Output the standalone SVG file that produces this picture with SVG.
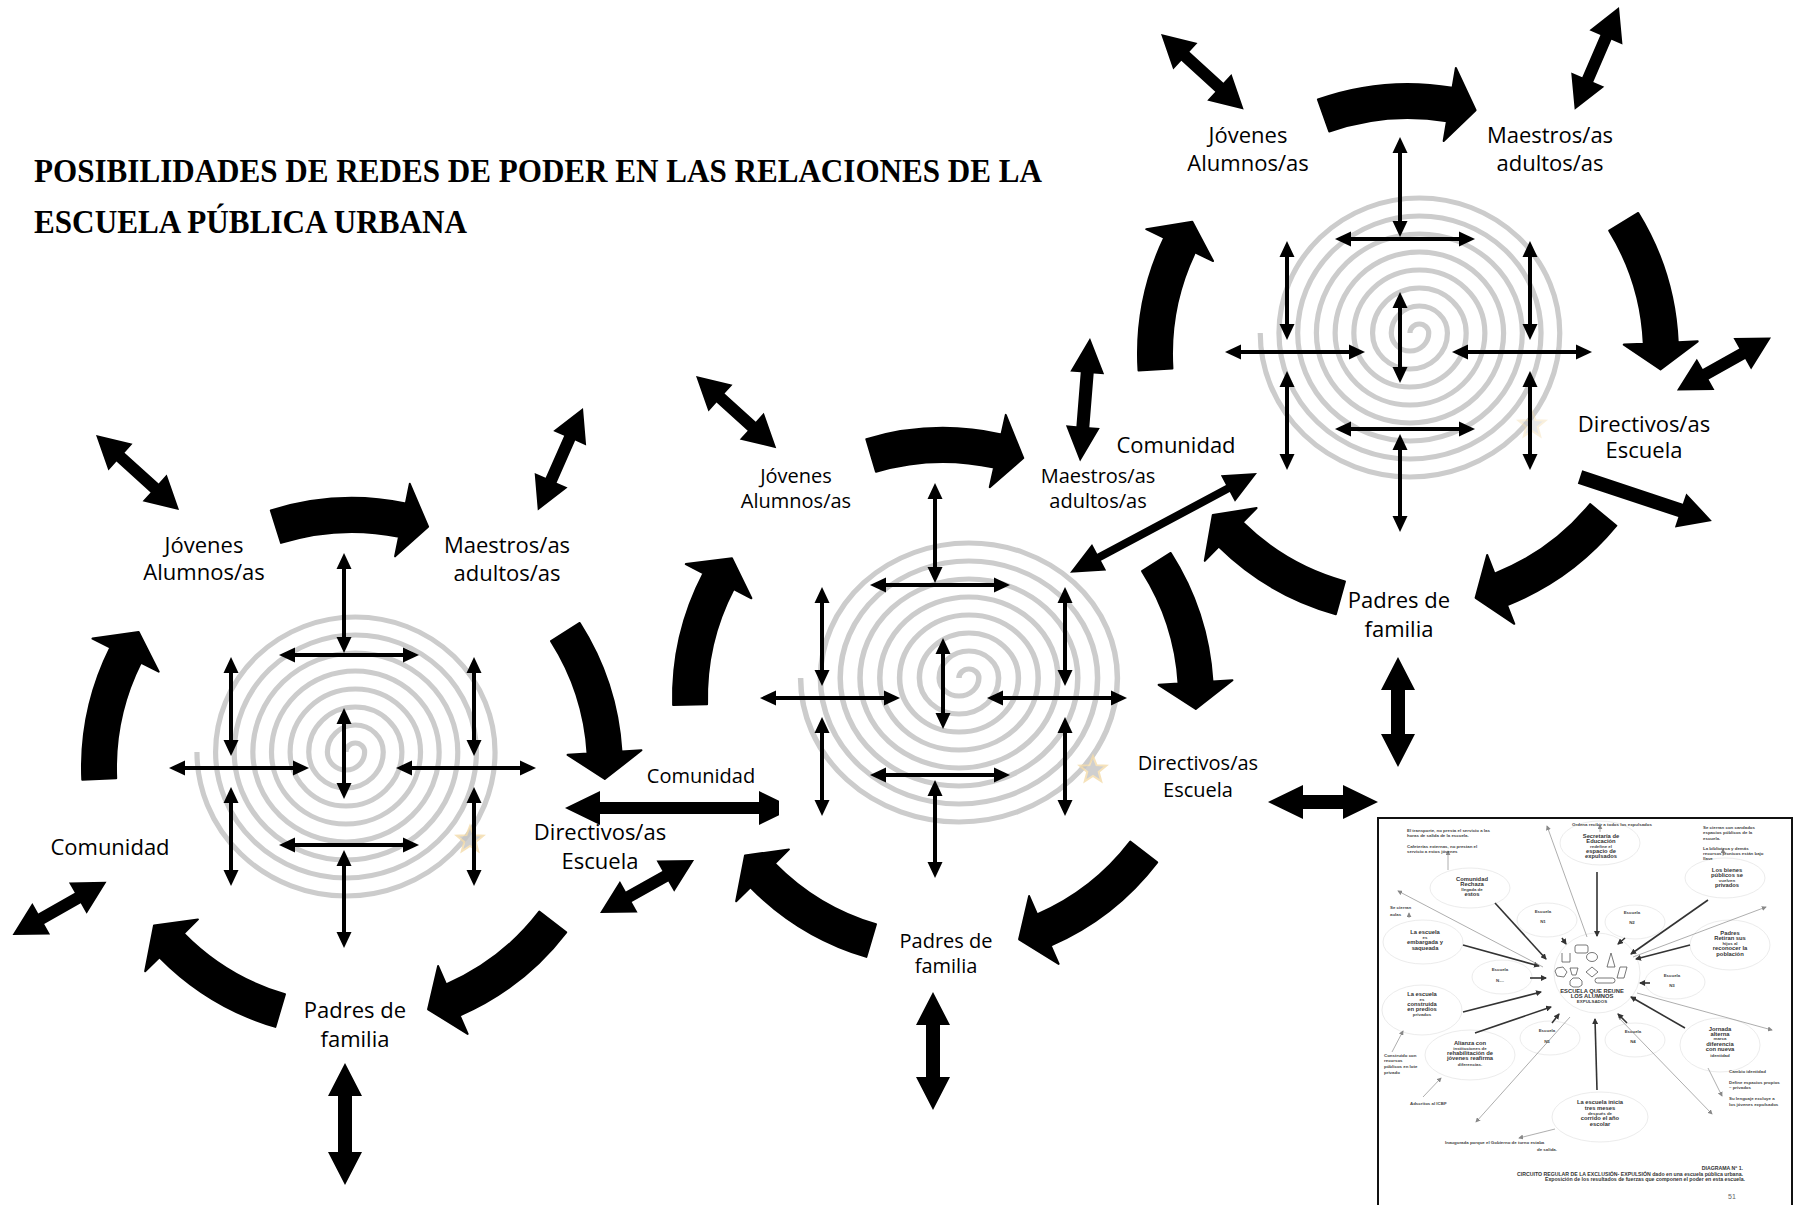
<svg xmlns="http://www.w3.org/2000/svg" xmlns:xlink="http://www.w3.org/1999/xlink" width="1802" height="1205" viewBox="0 0 1802 1205">
  <style>
    .title { font-family: "Liberation Serif", "Times New Roman", serif; font-weight: bold; font-size: 33px; fill: #000; }
    .lbl { font-family: "Open Sans", "Liberation Sans", sans-serif; font-size: 22px; fill: #000; text-anchor: middle; }
    .lbl.sm { font-size: 20px; }
    .spiral { fill: none; stroke: #cccccc; stroke-width: 5; }
    .thin { fill: none; stroke: #000; stroke-width: 4; marker-start: url(#sh); marker-end: url(#sh); }
    .block { fill: #000; stroke: #000; stroke-width: 2; stroke-linejoin: round; }
    .star { fill: #c4c4c4; stroke: #f4dcaa; stroke-width: 2; opacity: 0.8; }
    .ie { fill: none; stroke: #ececec; stroke-width: 1; }
    .ia { fill: none; stroke: #333; stroke-width: 1.6; marker-end: url(#ih); }
    .ib { fill: none; stroke: #999; stroke-width: 0.8; marker-end: url(#ih2); }
    .ishape { fill: none; stroke: #555; stroke-width: 0.8; }
    .t4 { font-family: "Liberation Sans", Arial, sans-serif; font-weight: bold; font-size: 4.4px; fill: #444; }
    .t6 { font-family: "Liberation Sans", Arial, sans-serif; font-weight: bold; font-size: 5.8px; fill: #333; text-anchor: middle; }
    .t5 { font-family: "Liberation Sans", Arial, sans-serif; font-weight: bold; font-size: 5.2px; fill: #333; text-anchor: end; }
    .mid { text-anchor: middle; }
  </style>
  <defs>
    <marker id="sh" viewBox="0 0 16 16" refX="8" refY="8" markerWidth="16" markerHeight="16" markerUnits="userSpaceOnUse" orient="auto-start-reverse">
      <path d="M0,0.5 L16,8 L0,15.5 z" fill="#000"/>
    </marker>
    <marker id="ih" viewBox="0 0 6 6" refX="5" refY="3" markerWidth="6" markerHeight="6" markerUnits="userSpaceOnUse" orient="auto">
      <path d="M0,0 L6,3 L0,6 z" fill="#333"/>
    </marker>
    <marker id="ih2" viewBox="0 0 6 6" refX="5" refY="3" markerWidth="5" markerHeight="5" markerUnits="userSpaceOnUse" orient="auto">
      <path d="M0,0 L6,3 L0,6 z" fill="#888"/>
    </marker>
    <!-- grey spiral built from alternating half circles -->
    <path id="spiralPath" class="spiral" d="M0,0 A9,9 0 0 1 18,0 A18,18 0 0 1 -18,0 A27,27 0 0 1 36,0 A36,36 0 0 1 -36,0 A45,45 0 0 1 54,0 A54,54 0 0 1 -54,0 A63,63 0 0 1 72,0 A72,72 0 0 1 -72,0 A81,81 0 0 1 90,0 A90,90 0 0 1 -90,0 A99,99 0 0 1 108,0 A108,108 0 0 1 -108,0 A117,117 0 0 1 126,0 A126,126 0 0 1 -126,0 A135,135 0 0 1 144,0 A144,144 0 0 1 -144,0"/>
    <!-- thick curved arrow, centred on angle 0, running clockwise -->
    <path id="bigArc" class="block" d="M257.50,-81.19 A270,270 0 0 1 264.58,53.83 L284.18,57.82 L241.29,76.08 L211.66,43.06 L231.26,47.05 A236,236 0 0 0 225.08,-70.97 Z"/>
    <!-- outer ring of small double arrows over each spiral -->
    <g id="crossOuter">
      <path class="thin" d="M-8,-207 V-123"/>
      <path class="thin" d="M-65,-113 H59"/>
      <path class="thin" d="M-121,-103 V-20"/>
      <path class="thin" d="M122,-103 V-20"/>
      <path class="thin" d="M-175,0 H-51"/>
      <path class="thin" d="M52,0 H176"/>
      <path class="thin" d="M-121,27 V110"/>
      <path class="thin" d="M122,27 V110"/>
      <path class="thin" d="M-65,77 H59"/>
      <path class="thin" d="M-8,90 V172"/>
    </g>
    <path id="crossCentre" class="thin" d="M0,-52 V23"/>
    <polygon id="star" class="star" points="0,-14 3.53,-4.85 13.31,-4.33 5.71,1.85 8.23,11.33 0,6 -8.23,11.33 -5.71,1.85 -13.31,-4.33 -3.53,-4.85"/>
    <polygon id="dbl112" points="0,0 33,-18 33,-6 79,-6 79,-18 112,0 79,18 79,6 33,6 33,18"/>
    <polygon id="dbl108" points="0,0 33,-18 33,-6 75,-6 75,-18 108,0 75,18 75,6 33,6 33,18"/>
  </defs>

  <rect width="1802" height="1205" fill="#fff"/>

  <g id="title">
    <text class="title" x="34" y="182" textLength="1008" lengthAdjust="spacingAndGlyphs">POSIBILIDADES DE REDES DE PODER EN LAS RELACIONES DE LA</text>
    <text class="title" x="34" y="233" textLength="433" lengthAdjust="spacingAndGlyphs">ESCUELA PÚBLICA URBANA</text>
  </g>

  <g id="spirals">
    <use href="#spiralPath" transform="translate(346,752) scale(1.035,1)"/>
    <use href="#spiralPath" transform="translate(959,678) scale(1.1,1)"/>
    <use href="#spiralPath" transform="translate(1410,333) scale(1.04,1)"/>
    <use href="#star" transform="translate(470,840)"/>
    <use href="#star" transform="translate(1093,770)"/>
    <use href="#star" transform="translate(1532,425)" opacity="0.5"/>
  </g>

  <g id="connectors">
    <!-- small arrow crosses -->
    <use href="#crossOuter" transform="translate(352,768)"/>
    <use href="#crossCentre" transform="translate(344,768)"/>
    <use href="#crossOuter" transform="translate(943,698)"/>
    <use href="#crossCentre" transform="translate(943,698)"/>
    <use href="#crossOuter" transform="translate(1408,352)"/>
    <use href="#crossCentre" transform="translate(1400,352)"/>

    <!-- curved cycle arrows, cluster 1 -->
    <use href="#bigArc" transform="translate(352,768) rotate(195)"/>
    <use href="#bigArc" transform="translate(352,768) rotate(270)"/>
    <use href="#bigArc" transform="translate(352,768) rotate(345)"/>
    <use href="#bigArc" transform="translate(352,768) rotate(55)"/>
    <use href="#bigArc" transform="translate(352,768) rotate(124)"/>
    <!-- cluster 2 -->
    <use href="#bigArc" transform="translate(943,698) rotate(196)"/>
    <use href="#bigArc" transform="translate(943,698) rotate(271)"/>
    <use href="#bigArc" transform="translate(943,698) rotate(345)"/>
    <use href="#bigArc" transform="translate(943,698) rotate(55)"/>
    <use href="#bigArc" transform="translate(943,698) rotate(124)"/>
    <!-- cluster 3 -->
    <use href="#bigArc" transform="translate(1408,354) rotate(194)"/>
    <use href="#bigArc" transform="translate(1408,354) rotate(268)"/>
    <use href="#bigArc" transform="translate(1408,354) rotate(346)"/>
    <use href="#bigArc" transform="translate(1408,354) rotate(57)"/>
    <use href="#bigArc" transform="translate(1408,354) rotate(123)"/>

    <!-- straight thick double arrows -->
    <use href="#dbl112" transform="translate(96,435) rotate(42.1)"/>
    <use href="#dbl112" transform="translate(583,408) rotate(113.8)"/>
    <use href="#dbl108" transform="translate(12.5,935) rotate(-29.5)"/>
    <use href="#dbl108" transform="translate(600,913) rotate(-29.4)"/>
    <polygon transform="translate(345,1063) rotate(90)" points="0,0 33,-17 33,-7 89,-7 89,-17 122,0 89,17 89,7 33,7 33,17"/>
    <polygon points="565,808 600,791 600,802 759,802 759,791 779,800.7 779,815.3 759,825 759,814 600,814 600,825"/>
    <use href="#dbl108" transform="translate(696,376) rotate(42)"/>
    <polygon transform="translate(1090,338) rotate(94.6)" points="0,0 35,-17 35,-6.5 89,-6.5 89,-17 124,0 89,17 89,6.5 35,6.5 35,17"/>
    <polygon transform="translate(1257,473) rotate(151.9)" points="0,0 33,-15 33,-4 179,-4 179,-15 212,0 179,15 179,4 33,4 33,15"/>
    <polygon transform="translate(933,992) rotate(90)" points="0,0 33,-17 33,-7 85,-7 85,-17 118,0 85,17 85,7 33,7 33,17"/>
    <polygon transform="translate(1268,802)" points="0,0 35,-17 35,-7 75,-7 75,-17 110,0 75,17 75,7 35,7 35,17"/>
    <use href="#dbl112" transform="translate(1161,34) rotate(42.4)"/>
    <use href="#dbl112" transform="translate(1619,7) rotate(113.3)"/>
    <use href="#dbl108" transform="translate(1771,337.5) rotate(150.6)"/>
    <polygon transform="translate(1580,477) rotate(18.4)" points="0,-7 106,-7 106,-18 139,0 106,18 106,7 0,7"/>
    <polygon transform="translate(1398,657) rotate(90)" points="0,0 33,-17 33,-7 77,-7 77,-17 110,0 77,17 77,7 33,7 33,17"/>
  </g>

  <!-- cluster 1 actors -->
  <g id="node-jovenes-1"><text class="lbl" x="204" y="553">Jóvenes</text><text class="lbl" x="204" y="580">Alumnos/as</text></g>
  <g id="node-maestros-1"><text class="lbl" x="507" y="553">Maestros/as</text><text class="lbl" x="507" y="581">adultos/as</text></g>
  <g id="node-comunidad-1"><text class="lbl" x="110" y="855">Comunidad</text></g>
  <g id="node-directivos-1"><text class="lbl" x="600" y="840">Directivos/as</text><text class="lbl" x="600" y="869">Escuela</text></g>
  <g id="node-padres-1"><text class="lbl" x="355" y="1018">Padres de</text><text class="lbl" x="355" y="1047">familia</text></g>
  <!-- cluster 2 actors -->
  <g id="node-comunidad-2"><text class="lbl sm" x="701" y="783">Comunidad</text></g>
  <g id="node-jovenes-2"><text class="lbl sm" x="796" y="483">Jóvenes</text><text class="lbl sm" x="796" y="508">Alumnos/as</text></g>
  <g id="node-maestros-2"><text class="lbl sm" x="1098" y="483">Maestros/as</text><text class="lbl sm" x="1098" y="508">adultos/as</text></g>
  <g id="node-directivos-2"><text class="lbl sm" x="1198" y="770">Directivos/as</text><text class="lbl sm" x="1198" y="797">Escuela</text></g>
  <g id="node-padres-2"><text class="lbl sm" x="946" y="948">Padres de</text><text class="lbl sm" x="946" y="973">familia</text></g>
  <!-- cluster 3 actors -->
  <g id="node-comunidad-3"><text class="lbl" x="1176" y="453">Comunidad</text></g>
  <g id="node-jovenes-3"><text class="lbl" x="1248" y="143">Jóvenes</text><text class="lbl" x="1248" y="171">Alumnos/as</text></g>
  <g id="node-maestros-3"><text class="lbl" x="1550" y="143">Maestros/as</text><text class="lbl" x="1550" y="171">adultos/as</text></g>
  <g id="node-directivos-3"><text class="lbl" x="1644" y="432">Directivos/as</text><text class="lbl" x="1644" y="458">Escuela</text></g>
  <g id="node-padres-3"><text class="lbl" x="1399" y="608">Padres de</text><text class="lbl" x="1399" y="637">familia</text></g>

  <!-- scanned diagram of the exclusion circuit -->
  <g id="inset">
    <rect x="1378" y="818" width="414" height="400" fill="#fff" stroke="#111" stroke-width="2"/>
    <g>
      <ellipse class="ie" cx="1600" cy="843" rx="40" ry="22"/>
      <ellipse class="ie" cx="1470" cy="888" rx="40" ry="20"/>
      <ellipse class="ie" cx="1725" cy="878" rx="40" ry="20"/>
      <ellipse class="ie" cx="1547" cy="920" rx="30" ry="17"/>
      <ellipse class="ie" cx="1635" cy="922" rx="30" ry="17"/>
      <ellipse class="ie" cx="1423" cy="942" rx="40" ry="22"/>
      <ellipse class="ie" cx="1730" cy="945" rx="40" ry="25"/>
      <ellipse class="ie" cx="1502" cy="977" rx="30" ry="17"/>
      <ellipse class="ie" cx="1675" cy="982" rx="30" ry="17"/>
      <ellipse class="ie" cx="1597" cy="973" rx="43" ry="40"/>
      <ellipse class="ie" cx="1422" cy="1010" rx="40" ry="25"/>
      <ellipse class="ie" cx="1550" cy="1038" rx="30" ry="17"/>
      <ellipse class="ie" cx="1635" cy="1040" rx="30" ry="17"/>
      <ellipse class="ie" cx="1720" cy="1045" rx="40" ry="27"/>
      <ellipse class="ie" cx="1470" cy="1055" rx="45" ry="25"/>
      <ellipse class="ie" cx="1600" cy="1117" rx="48" ry="25"/>
    </g>
    <g>
      <path class="ia" d="M1597,872 V936"/>
      <path class="ia" d="M1495,903 L1546,959"/>
      <path class="ia" d="M1708,900 L1631,954"/>
      <path class="ia" d="M1463,945 L1539,966"/>
      <path class="ia" d="M1690,945 L1636,959"/>
      <path class="ia" d="M1530,978 H1546"/>
      <path class="ia" d="M1650,983 H1640"/>
      <path class="ia" d="M1463,1012 L1541,992"/>
      <path class="ia" d="M1475,1033 L1551,1007"/>
      <path class="ia" d="M1597,1090 L1595,1019"/>
      <path class="ia" d="M1685,1028 L1631,997"/>
      <path class="ia" d="M1552,1023 L1559,1014"/>
      <path class="ia" d="M1627,1023 L1618,1014"/>
      <path class="ia" d="M1562,938 L1566,944"/>
      <path class="ia" d="M1625,938 L1618,944"/>
      <path class="ib" d="M1587,937 L1547,826"/>
      <path class="ib" d="M1543,967 L1398,891"/>
      <path class="ib" d="M1633,957 L1766,907"/>
      <path class="ib" d="M1637,993 L1772,1030"/>
      <path class="ib" d="M1570,1017 L1476,1122"/>
      <path class="ib" d="M1618,1017 L1712,1114"/>
      <path class="ib" d="M1555,1129 L1519,1138"/>
      <path class="ib" d="M1448,870 V851"/>
      <path class="ib" d="M1723,856 V849"/>
      <path class="ib" d="M1600,832 V825"/>
      <path class="ib" d="M1409,918 V913"/>
      <path class="ib" d="M1392,1052 L1403,1031"/>
      <path class="ib" d="M1423,1097 L1441,1078"/>
      <path class="ib" d="M1708,1068 L1722,1096"/>
    </g>
    <g>
      <path class="ishape" d="M1562,953 V962 H1570 V953"/>
      <rect class="ishape" x="1575" y="945" width="13" height="8" rx="2"/>
      <ellipse class="ishape" cx="1592" cy="957" rx="5.5" ry="4.5"/>
      <path class="ishape" d="M1611,953 L1615,967 H1607 Z"/>
      <path class="ishape" d="M1557,968 L1563,967 L1567,972 L1564,977 L1557,976 L1555,971 Z"/>
      <path class="ishape" d="M1570,968 H1578 L1576,975 H1572 Z"/>
      <path class="ishape" d="M1592,967 L1598,972 L1592,977 L1586,972 Z"/>
      <rect class="ishape" x="1595" y="978" width="20" height="5" rx="2.5"/>
      <path class="ishape" d="M1620,967 H1627 L1624,978 H1617 Z"/>
      <path class="ishape" d="M1573,978 H1579 L1582,981 V985 L1579,987 H1573 L1570,985 V981 Z"/>
    </g>
    <g>
      <text class="t4 mid" x="1612" y="826">Ordena recibir  a todos los expulsados</text>
      <text class="t6" x="1601" y="838">Secretaría de</text>
      <text class="t6" x="1601" y="843">Educación</text>
      <text class="t4 mid" x="1601" y="848">redefine el</text>
      <text class="t6" x="1601" y="853">espacio de</text>
      <text class="t6" x="1601" y="858">expulsados</text>
      <text class="t4" x="1407" y="832">El transporte, no presta el servicio a las</text>
      <text class="t4" x="1407" y="837">horas de salida de la escuela.</text>
      <text class="t4" x="1407" y="848">Cafeterías externas, no prestan el</text>
      <text class="t4" x="1407" y="853">servicio a estos jóvenes</text>
      <text class="t4" x="1703" y="829">Se cierran con candados</text>
      <text class="t4" x="1703" y="834">espacios públicos de la</text>
      <text class="t4" x="1703" y="840">escuela.</text>
      <text class="t4" x="1703" y="850">La biblioteca y demás</text>
      <text class="t4" x="1703" y="855">recursos técnicos están bajo</text>
      <text class="t4" x="1703" y="860">llave</text>
      <text class="t6" x="1472" y="881">Comunidad</text>
      <text class="t6" x="1472" y="886">Rechaza</text>
      <text class="t4 mid" x="1472" y="891">llegada de</text>
      <text class="t6" x="1472" y="896">estos</text>
      <text class="t6" x="1727" y="872">Los bienes</text>
      <text class="t6" x="1727" y="877">públicos se</text>
      <text class="t4 mid" x="1727" y="882">vuelven</text>
      <text class="t6" x="1727" y="887">privados</text>
      <text class="t4 mid" x="1543" y="913">Escuela</text>
      <text class="t4 mid" x="1543" y="923">N1</text>
      <text class="t4 mid" x="1632" y="914">Escuela</text>
      <text class="t4 mid" x="1632" y="924">N2</text>
      <text class="t4" x="1390" y="909">Se cierran</text>
      <text class="t4" x="1390" y="916">aulas</text>
      <text class="t6" x="1425" y="934">La escuela</text>
      <text class="t4 mid" x="1425" y="939">es</text>
      <text class="t6" x="1425" y="944">embargada y</text>
      <text class="t6" x="1425" y="950">saqueada</text>
      <text class="t6" x="1730" y="935">Padres</text>
      <text class="t6" x="1730" y="940">Retiran sus</text>
      <text class="t4 mid" x="1730" y="945">hijos al</text>
      <text class="t6" x="1730" y="950">reconocer la</text>
      <text class="t6" x="1730" y="956">población</text>
      <text class="t4 mid" x="1500" y="971">Escuela</text>
      <text class="t4 mid" x="1500" y="982">N....</text>
      <text class="t4 mid" x="1672" y="977">Escuela</text>
      <text class="t4 mid" x="1672" y="987">N3</text>
      <text class="t6" x="1592" y="993">ESCUELA QUE REUNE</text>
      <text class="t6" x="1592" y="998">LOS ALUMNOS</text>
      <text class="t4 mid" x="1592" y="1003">EXPULSADOS</text>
      <text class="t6" x="1422" y="996">La escuela</text>
      <text class="t4 mid" x="1422" y="1001">es</text>
      <text class="t6" x="1422" y="1006">construida</text>
      <text class="t6" x="1422" y="1011">en predios</text>
      <text class="t4 mid" x="1422" y="1016">privados</text>
      <text class="t4 mid" x="1547" y="1032">Escuela</text>
      <text class="t4 mid" x="1547" y="1043">N5</text>
      <text class="t4 mid" x="1633" y="1033">Escuela</text>
      <text class="t4 mid" x="1633" y="1043">N4</text>
      <text class="t6" x="1720" y="1031">Jornada</text>
      <text class="t6" x="1720" y="1036">alterna</text>
      <text class="t4 mid" x="1720" y="1040">marca</text>
      <text class="t6" x="1720" y="1046">diferencia</text>
      <text class="t6" x="1720" y="1051">con nueva</text>
      <text class="t4 mid" x="1720" y="1057">identidad</text>
      <text class="t6" x="1470" y="1045">Alianza con</text>
      <text class="t4 mid" x="1470" y="1050">instituciones de</text>
      <text class="t6" x="1470" y="1055">rehabilitación de</text>
      <text class="t6" x="1470" y="1060">jóvenes reafirma</text>
      <text class="t4 mid" x="1470" y="1066">diferencias.</text>
      <text class="t4" x="1384" y="1057">Construido con</text>
      <text class="t4" x="1384" y="1062">recursos</text>
      <text class="t4" x="1384" y="1068">públicos en lote</text>
      <text class="t4" x="1384" y="1074">privado</text>
      <text class="t4" x="1729" y="1073">Cambio identidad</text>
      <text class="t4" x="1729" y="1084">Define espacios propios</text>
      <text class="t4" x="1729" y="1089">– privados</text>
      <text class="t4" x="1729" y="1100">Su lenguaje excluye a</text>
      <text class="t4" x="1729" y="1106">los jóvenes expulsados</text>
      <text class="t4" x="1410" y="1105">Adscritos al ICBF</text>
      <text class="t6" x="1600" y="1104">La escuela inicia</text>
      <text class="t6" x="1600" y="1110">tres meses</text>
      <text class="t4 mid" x="1600" y="1115">después de</text>
      <text class="t6" x="1600" y="1120">corrido el año</text>
      <text class="t6" x="1600" y="1126">escolar</text>
      <text class="t4" x="1445" y="1144">Inaugurada porque el Gobierno de turno estaba</text>
      <text class="t4" x="1537" y="1151">de salida.</text>
      <text class="t5" x="1743" y="1170">DIAGRAMA Nº 1.</text>
      <text class="t5" x="1743" y="1176">CIRCUITO REGULAR DE LA EXCLUSIÓN- EXPULSIÓN dado en una escuela pública urbana.</text>
      <text class="t5" x="1745" y="1181">Exposición de los resultados de fuerzas que componen el poder en esta escuela.</text>
      <text class="t4" x="1728" y="1199" style="font-size:7px;font-weight:normal;fill:#666">51</text>
    </g>
  </g>
</svg>
